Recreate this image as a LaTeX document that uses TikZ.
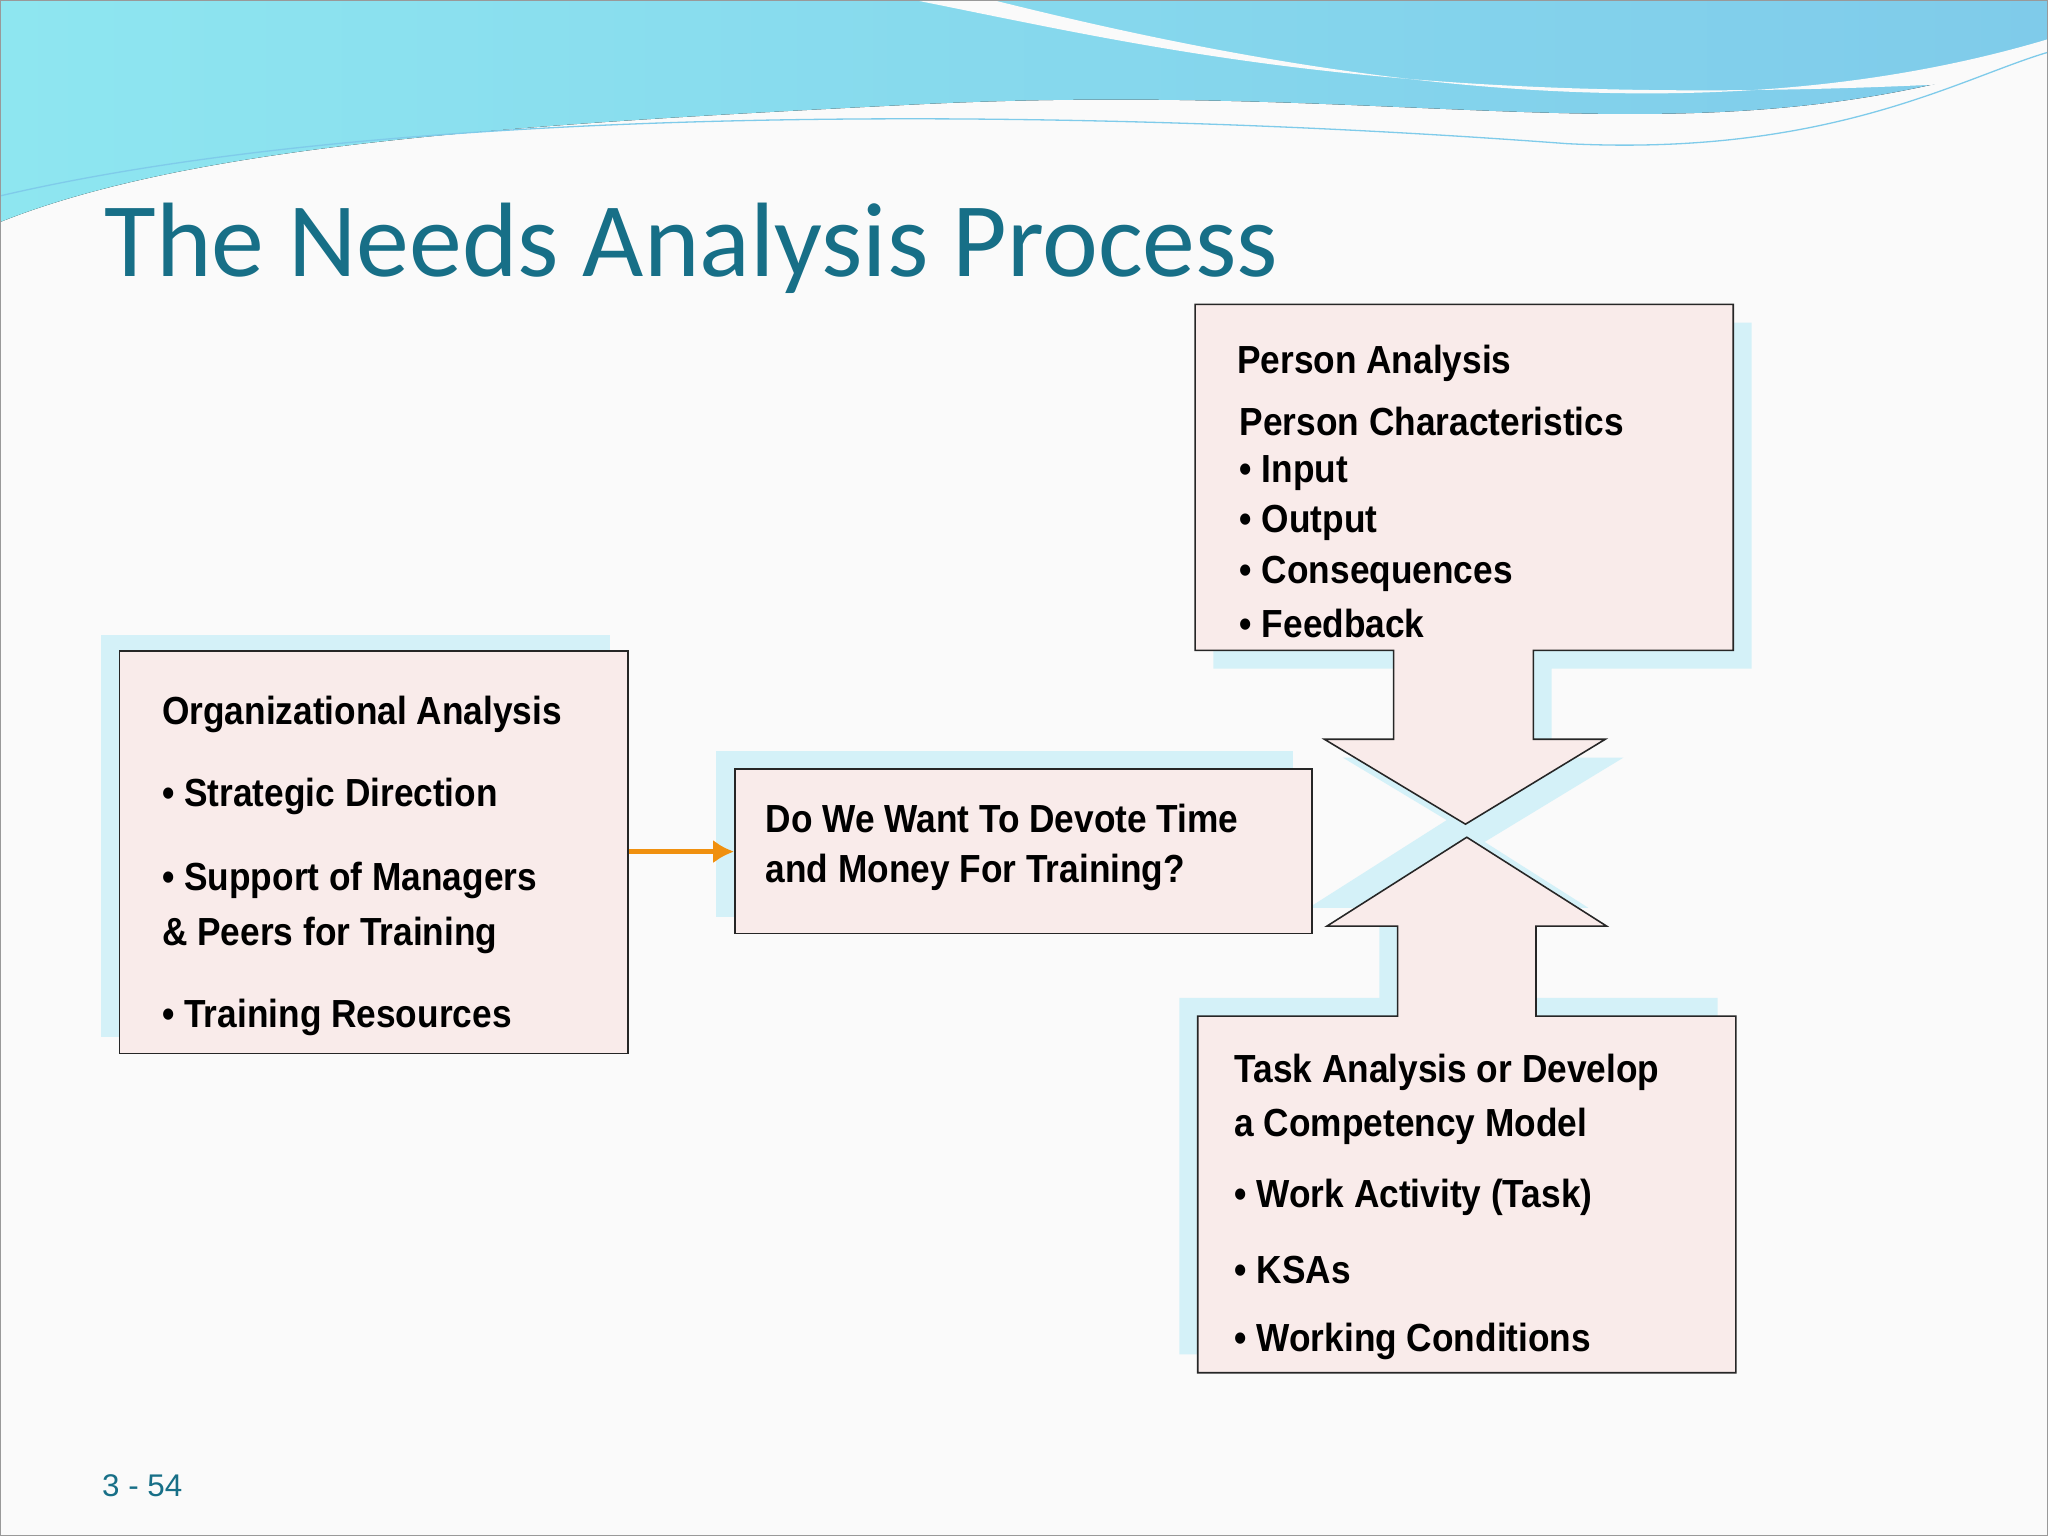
\documentclass[tikz,border=0pt]{standalone}
\usepackage{fontspec}
\usetikzlibrary{arrows.meta}
\setmainfont{Liberation Sans}
\newfontfamily\titlefont{Carlito}
\newfontfamily\narrowfont[FakeStretch=0.9]{Liberation Sans}
\definecolor{boxfill}{HTML}{F9EBEA}
\definecolor{shad}{HTML}{D4F1F8}
\definecolor{titlec}{HTML}{176F87}
\definecolor{wave1}{HTML}{8EE6F0}
\definecolor{wave2}{HTML}{7FCBEA}
\definecolor{arrowc}{HTML}{F0900F}
\tikzset{
  box/.style={draw=black!85,line width=1.2pt,fill=boxfill},
  shadowbox/.style={fill=shad},
  txt/.style={anchor=west,font=\narrowfont\bfseries\fontsize{30}{34}\selectfont,inner sep=0pt},
}
\begin{document}
\begin{tikzpicture}[x=1pt,y=-1pt]
\fill[white!96!gray] (0,0) rectangle (1568,1176);
\useasboundingbox (0,0) rectangle (1568,1176);
% top waves
\fill[left color=wave1,right color=wave2] (0,0) -- (1568,0) -- (1568,40) .. controls (1300,130) and (1100,60) .. (700,80) .. controls (400,95) and (150,110) .. (0,170) -- cycle;
\fill[white!96!gray] (700,0) .. controls (900,40) and (1100,90) .. (1568,60) -- (1568,30) .. controls (1300,110) and (1000,60) .. (760,0) -- cycle;
\draw[wave2,line width=1pt] (0,150) .. controls (300,80) and (800,80) .. (1200,110) .. controls (1400,120) and (1500,60) .. (1568,40);
\draw[draw=black!40] (0.5,0.5) rectangle (1567.5,1175.5);
% title
\node[anchor=base west,inner sep=0pt,font=\titlefont\fontsize{81}{86}\selectfont,text=titlec] (title) at (80,212) {The Needs Analysis Process};
% shadows
\fill[shadowbox] (77,486) rectangle (467,794);
\fill[shadowbox] (548,575) rectangle (990,702);
\fill[shadowbox] (929,247) -- (1341,247) -- (1341,512) -- (1188,512) -- (1188,580) -- (1243,580) -- (1136,645) -- (1028,580) -- (1081,580) -- (1081,512) -- (929,512) -- cycle;
\fill[shadowbox] (903,764) -- (1056,764) -- (1056,695) -- (1002,695) -- (1109,627) -- (1216,695) -- (1162,695) -- (1162,764) -- (1315,764) -- (1315,1037) -- (903,1037) -- cycle;
% boxes
\node[box,minimum width=389pt,minimum height=308pt,anchor=north west,inner sep=0pt] (org) at (91,498) {};
\node[box,minimum width=442pt,minimum height=126pt,anchor=north west,inner sep=0pt] (q) at (562,588) {};
\draw[box] (915,233) -- (1327,233) -- (1327,498) -- (1174,498) -- (1174,566) -- (1229,566) -- (1122,631) -- (1014,566) -- (1067,566) -- (1067,498) -- (915,498) -- cycle;
\draw[box] (917,778) -- (1070,778) -- (1070,709) -- (1016,709) -- (1123,641) -- (1230,709) -- (1176,709) -- (1176,778) -- (1329,778) -- (1329,1051) -- (917,1051) -- cycle;
% org text
\node[txt] (o1) at (124,547) {Organizational Analysis};
\node[txt] (o2) at (124,610) {• Strategic Direction};
\node[txt] (o3) at (124,674) {• Support of Managers};
\node[txt] (o4) at (124,716) {\& Peers for Training};
\node[txt] (o5) at (124,779) {• Training Resources};
% question
\node[txt] (q1) at (586,627) {Do We Want To Devote Time};
\node[txt] (q2) at (586,668) {and Money For Training?};
% person
\node[txt] (p1) at (947,278) {Person Analysis};
\node[txt] (p2) at (949,323) {Person Characteristics};
\node[txt] (p3) at (949,362) {• Input};
\node[txt] (p4) at (949,400) {• Output};
\node[txt] (p5) at (949,439) {• Consequences};
\node[txt] (p6) at (949,477) {• Feedback};
% task
\node[txt] (t1) at (945,821) {Task Analysis or Develop};
\node[txt] (t2) at (945,862) {a Competency Model};
\node[txt] (t3) at (945,917) {• Work Activity (Task)};
\node[txt] (t4) at (945,972) {• KSAs};
\node[txt] (t5) at (945,1027) {• Working Conditions};
% arrow
\draw[arrowc,line width=4pt,-{Latex[length=16pt,width=18pt]}] (org.east |- 0,652) -- (q.west |- 0,652);
% page number
\node[anchor=base west,inner sep=0pt,font=\fontsize{24}{26}\selectfont,text=titlec] (pg) at (78,1146) {3 - 54};
\end{tikzpicture}
\end{document}
